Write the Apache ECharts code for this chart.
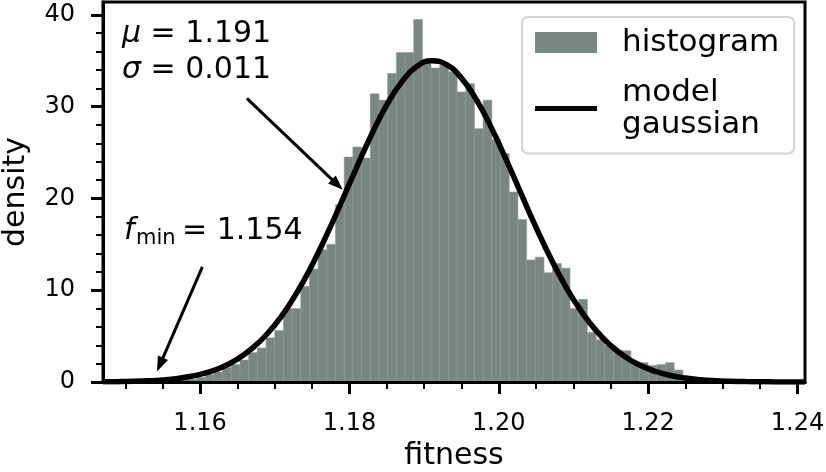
<!DOCTYPE html>
<html><head><meta charset="utf-8">
<script src="https://cdn.jsdelivr.net/npm/echarts@6/dist/echarts.min.js"></script>
<style>html,body{margin:0;padding:0;background:#fff}#c{width:826px;height:472px}</style>
</head><body><div id="c"></div>
<script>
// ---- data ----
const binStart = 1.15837;
const binWidth = 0.0011628;
const densities = [0.3,0.5,0.8,1.1,1.6,1.9,2.4,3.2,3.7,4.8,
  5.6,8.0,8.0,10.4,12.3,14.4,15.0,19.3,24.5,25.6,
  24.4,31.4,30.7,33.6,35.9,35.9,39.5,34.8,34.2,34.5,
  33.8,31.6,32.5,27.6,30.7,26.4,24.9,20.7,17.7,13.3,
  13.6,11.9,12.9,12.4,8.0,9.0,5.4,4.6,4.0,3.4,
  3.4,2.1,2.1,1.8,1.9,2.1,1.3];
const curveX = [1.147,1.149,1.151,1.153,1.155,1.157,1.159,1.161,1.163,1.165,
  1.167,1.169,1.171,1.173,1.175,1.177,1.179,1.181,1.183,1.185,
  1.187,1.189,1.191,1.193,1.195,1.197,1.199,1.201,1.203,1.205,
  1.207,1.209,1.211,1.213,1.215,1.217,1.219,1.221,1.223,1.225,
  1.227,1.229,1.231,1.233,1.235,1.237,1.239,1.241];
const curveY = [0.019,0.037,0.070,0.128,0.226,0.389,0.648,1.05,1.64,2.50,
  3.68,5.26,7.28,9.79,12.75,16.11,19.74,23.45,27.02,30.19,
  32.70,34.36,35.0,34.57,33.11,30.75,27.70,24.19,20.49,16.82,
  13.40,10.34,7.75,5.62,3.96,2.70,1.79,1.15,0.714,0.432,
  0.253,0.144,0.079,0.042,0.022,0.011,0.005,0.002];
const xMajorTicks = [1.16,1.18,1.20,1.22,1.24];
const xMinorTicks = [1.15,1.155,1.165,1.17,1.175,1.185,1.19,1.195,1.205,1.21,1.215,1.225,1.23,1.235];
const yMajorTicks = [0,10,20,30,40];
const yMinorTicks = [2,4,6,8,12,14,16,18,22,24,26,28,32,34,36,38];
const seriesNames = ['histogram','model gaussian'];

// ---- styling ----
const FONT = 'DejaVu Sans';
const barColor = '#798784';
const xMin = 1.147, xMax = 1.241, yMin = 0, yMax = 41.4;
const lineIcon = 'path://M0,0L0,0M0,8L62,8L62,13L0,13ZM62,21L62,21';

const chart = echarts.init(document.getElementById('c'), null, {renderer:'canvas'});
const histData = densities.map((d,i)=>[binStart+i*binWidth, binStart+(i+1)*binWidth, d]);
const lineData = curveX.map((x,i)=>[x, curveY[i]]);

const option = {
  animation:false,
  backgroundColor:'#fff',
  grid:{left:103,right:21,top:2,bottom:90,show:true,borderColor:'#000',borderWidth:3,backgroundColor:'transparent',outerBoundsMode:'none',containLabel:false},
  xAxis:[
    {type:'value',min:xMin,max:xMax,position:'bottom',z:10,
     axisLine:{show:true,onZero:false,lineStyle:{color:'#000',width:3}},
     splitLine:{show:false},
     axisTick:{show:true,customValues:xMajorTicks,length:12,lineStyle:{color:'#000',width:3}},
     axisLabel:{customValues:xMajorTicks,formatter:v=>v.toFixed(2),margin:30,fontSize:24,color:'#000',fontFamily:FONT},
     name:'fitness',nameLocation:'middle',nameGap:57,nameTextStyle:{fontSize:30,color:'#000',fontFamily:FONT}},
    {type:'value',min:xMin,max:xMax,position:'bottom',
     axisLine:{show:false,onZero:false},splitLine:{show:false},
     axisTick:{show:true,customValues:xMinorTicks,length:7,lineStyle:{color:'#000',width:2}},
     axisLabel:{show:false}}
  ],
  yAxis:[
    {type:'value',min:yMin,max:yMax,position:'left',z:10,
     axisLine:{show:true,onZero:false,lineStyle:{color:'#000',width:3}},
     splitLine:{show:false},
     axisTick:{show:true,customValues:yMajorTicks,length:12,lineStyle:{color:'#000',width:3}},
     axisLabel:{customValues:yMajorTicks,margin:28,fontSize:24,color:'#000',fontFamily:FONT},
     name:'density',nameLocation:'middle',nameGap:72,nameTextStyle:{fontSize:30,color:'#000',fontFamily:FONT}},
    {type:'value',min:yMin,max:yMax,position:'left',
     axisLine:{show:false,onZero:false},splitLine:{show:false},
     axisTick:{show:true,customValues:yMinorTicks,length:7,lineStyle:{color:'#000',width:2}},
     axisLabel:{show:false}}
  ],
  legend:{
    orient:'vertical',left:522,top:17,
    padding:[9.5,15,13,13],itemGap:18,itemWidth:62,itemHeight:21,
    backgroundColor:'rgba(255,255,255,0.85)',borderColor:'#d3d3d3',borderWidth:2,borderRadius:6,
    data:[{name:seriesNames[0],icon:'rect'},{name:seriesNames[1],icon:lineIcon}],
    formatter:n=>n===seriesNames[1]?'model\ngaussian':n,
    textStyle:{fontSize:31,lineHeight:32,color:'#000',fontFamily:FONT,padding:[0,0,0,20]},
    selectedMode:false
  },
  series:[
    {type:'custom',name:seriesNames[0],xAxisIndex:0,yAxisIndex:0,z:1,clip:true,
     itemStyle:{color:barColor},
     encode:{x:[0,1],y:2},
     renderItem:function(params,api){
       const p0 = api.coord([api.value(0), api.value(2)]);
       const p1 = api.coord([api.value(1), 0]);
       return {type:'rect',shape:{x:p0[0],y:p0[1],width:p1[0]-p0[0],height:p1[1]-p0[1]},
               style:{fill:barColor,stroke:'#8b9896',lineWidth:0.6}};
     },
     data:histData},
    {type:'line',name:seriesNames[1],xAxisIndex:0,yAxisIndex:0,z:3,
     data:lineData,smooth:true,showSymbol:false,symbol:'none',clip:true,
     lineStyle:{color:'#000',width:5.5},itemStyle:{color:'#000'},
     markLine:{silent:true,symbol:['none','triangle'],symbolSize:[11,15],
       label:{show:false},lineStyle:{color:'#000',width:3,type:'solid'},emphasis:{disabled:true},
       data:[
         [{coord:[1.16626,30.9]},{coord:[1.17838,21.5]}],
         [{coord:[1.16031,12.54]},{coord:[1.15463,1.89]}]
       ]}}
  ],
  graphic:[
    {type:'text',x:122,y:34,z:20,style:{text:'{i|μ} = 1.191',font:'30px "DejaVu Sans"',fill:'#000',verticalAlign:'middle',
      rich:{i:{fontStyle:'italic',fontSize:30,fontFamily:FONT}}}},
    {type:'text',x:122,y:70,z:20,style:{text:'{i|σ} = 0.011',font:'30px "DejaVu Sans"',fill:'#000',verticalAlign:'middle',
      rich:{i:{fontStyle:'italic',fontSize:30,fontFamily:FONT}}}},
    {type:'text',x:124,y:231.3,z:20,style:{text:'f',font:'italic 30px "DejaVu Sans"',fill:'#000',verticalAlign:'middle'}},
    {type:'text',x:136,y:238.2,z:20,style:{text:'min',font:'21px "DejaVu Sans"',fill:'#000',verticalAlign:'middle'}},
    {type:'text',x:182,y:231.3,z:20,style:{text:'= 1.154',font:'30px "DejaVu Sans"',fill:'#000',verticalAlign:'middle'}}
  ]
};
chart.setOption(option);
</script>
</body></html>
